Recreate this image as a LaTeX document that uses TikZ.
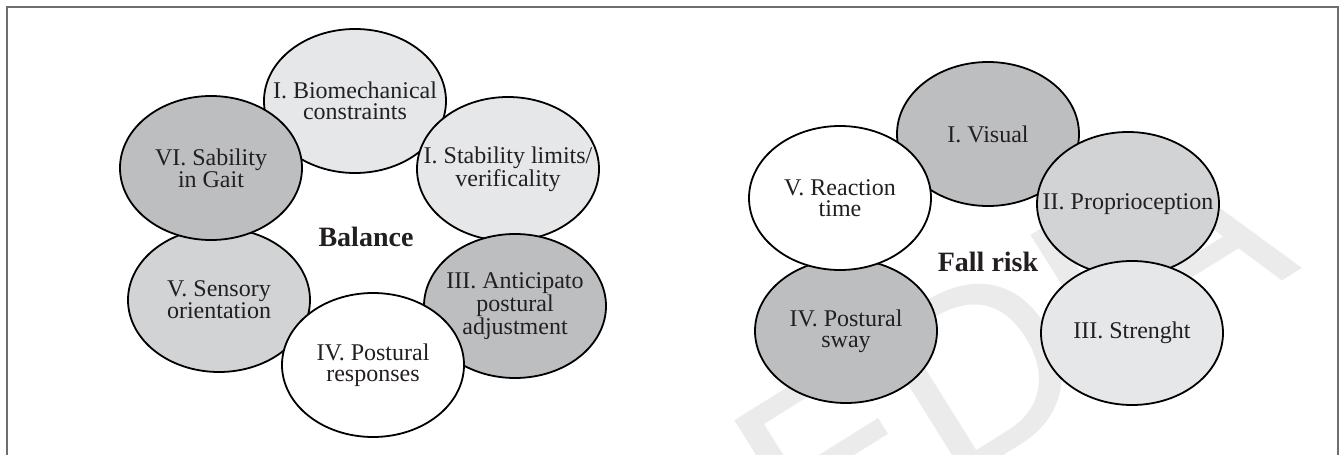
\documentclass[tikz,border=0pt]{standalone}
\usepackage{fontspec}
\setmainfont{Liberation Serif}
\newfontfamily\wmfont{Liberation Sans}
\usetikzlibrary{shapes.geometric}
\definecolor{gA}{HTML}{E6E7E8}
\definecolor{gB}{HTML}{D1D3D4}
\definecolor{gC}{HTML}{BCBEC0}
\definecolor{framecol}{HTML}{6D6E71}
\definecolor{wmcol}{HTML}{EBEBEB}
\definecolor{txt}{HTML}{231F20}
\begin{document}
\begin{tikzpicture}[x=1pt,y=1pt,
  bub/.style={ellipse, draw=black, line width=1.8pt, minimum width=182pt, minimum height=144pt, inner sep=0pt},
  lbl/.style={align=center, font=\fontsize{24}{21}\selectfont, text=txt, inner sep=0pt},
  ttl/.style={font=\bfseries\fontsize{28}{30}\selectfont, text=txt, inner sep=0pt}]
\useasboundingbox (0,0) rectangle (1344,455);
\clip (0,0) rectangle (1344,455);
% watermark
\node[text=wmcol, font=\wmfont\fontsize{250}{250}\selectfont, rotate=32, inner sep=0pt] (wm) at (1010,105) {EDIA};
% frame
\draw[framecol, line width=2pt] (6.7,-10) -- (6.7,448.3) -- (1337.5,448.3) -- (1337.5,-10);
% Balance panel
\node[bub, fill=gA] (bio) at (355,354) {};
\node[bub, fill=gA] (stab) at (508,286) {};
\node[bub, fill=gC] (anti) at (515,149) {};
\node[bub, fill=gB] (sens) at (219,155) {};
\node[bub, fill=white] (post) at (373,90) {};
\node[bub, fill=gC] (gait) at (211,287) {};
\node[lbl] at (bio) {I. Biomechanical\\constraints};
\node[lbl] at (stab) {I. Stability limits/\\verificality};
\node[lbl] at (anti) {III. Anticipato\\postural\\adjustment};
\node[lbl] at (sens) {V. Sensory\\orientation};
\node[lbl] at (post) {IV. Postural\\responses};
\node[lbl] at (gait) {VI. Sability\\in Gait};
\node[ttl] (bal) at (366,218) {Balance};
% Fall risk panel
\node[bub, fill=gC] (vis) at (988,321) {};
\node[bub, fill=gB] (prop) at (1128,251) {};
\node[bub, fill=gA] (str) at (1132,122) {};
\node[bub, fill=gC] (sway) at (846,124) {};
\node[bub, fill=white] (react) at (840,257) {};
\node[lbl] at (vis) {I. Visual};
\node[lbl] at (prop) {II. Proprioception};
\node[lbl] at (str) {III. Strenght};
\node[lbl] at (sway) {IV. Postural\\sway};
\node[lbl] at (react) {V. Reaction\\time};
\node[ttl] (fall) at (988,193) {Fall risk};
\end{tikzpicture}
\end{document}
